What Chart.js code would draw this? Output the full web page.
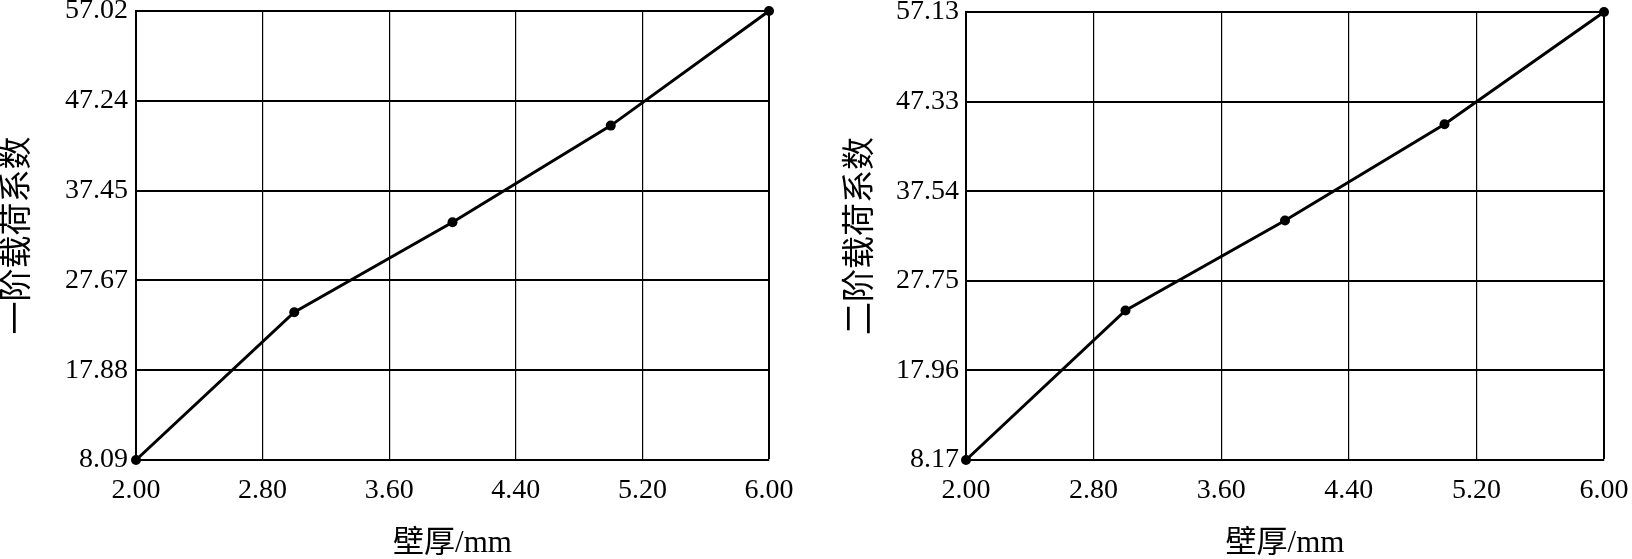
<!DOCTYPE html>
<html><head><meta charset="utf-8">
<script src="https://cdn.jsdelivr.net/npm/chart.js@4.4.0/dist/chart.umd.min.js"></script>
<style>
html,body{margin:0;padding:0;background:#fff;}
#wrap{position:relative;width:1632px;height:559px;overflow:hidden;background:#fff;}
.c{position:absolute;top:0;width:816px;height:559px;}
</style></head><body>
<div id="wrap">
<div class="c" style="left:0"><canvas id="c1" width="816" height="559"></canvas></div>
<div class="c" style="left:816px"><canvas id="c2" width="816" height="559"></canvas></div>
</div>
<script>
const thickness = [2.0, 3.0, 4.0, 5.0, 6.0];
const firstOrder = [8.09, 24.20, 34.00, 44.53, 57.02];
const secondOrder = [8.17, 24.51, 34.34, 44.87, 57.13];
const xTicks = [2.00, 2.80, 3.60, 4.40, 5.20, 6.00];
const yTicks1 = [8.09, 17.88, 27.67, 37.45, 47.24, 57.02];
const yTicks2 = [8.17, 17.96, 27.75, 37.54, 47.33, 57.13];
const xTitle = '壁厚/mm';
const yTitle1 = '一阶载荷系数';
const yTitle2 = '二阶载荷系数';

const serif = "'Liberation Serif', 'Times New Roman', 'Noto Sans CJK SC', serif";
const cjk = "'Liberation Serif', 'Noto Sans CJK SC', serif";

function makeChart(id, values, yTicks, yTitle, g) {
  const pts = thickness.map((x, i) => ({x: x, y: values[i]}));
  return new Chart(document.getElementById(id), {
    type: 'line',
    data: { datasets: [{
      data: pts,
      borderColor: '#000', backgroundColor: '#000',
      borderWidth: 3, pointRadius: 5, pointHoverRadius: 5,
      pointBackgroundColor: '#000', pointBorderColor: '#000', pointBorderWidth: 0,
      tension: 0, fill: false, clip: false
    }]},
    options: {
      responsive: false, animation: false, devicePixelRatio: 1,
      layout: { padding: { top: g.top, left: 0, right: g.right, bottom: 0 } },
      plugins: { legend: { display: false }, tooltip: { enabled: false } },
      scales: {
        x: {
          type: 'linear', min: xTicks[0], max: xTicks[xTicks.length - 1],
          afterBuildTicks: s => { s.ticks = xTicks.map(v => ({value: v})); },
          afterFit: s => { s.height = 559 - g.bottom; s.paddingLeft = 0; s.paddingRight = 0; },
          ticks: { color: '#000', font: { family: serif, size: 28 }, padding: g.xPad, maxRotation: 0,
                   autoSkip: false, callback: v => Number(v).toFixed(2) },
          grid: { color: '#000', drawTicks: false,
                  lineWidth: c => (c.index === xTicks.length - 1 ? 2 : 1.2) },
          border: { color: '#000', width: 2 },
          title: { display: true, text: xTitle, color: '#000',
                   font: { family: cjk, size: 31 }, padding: { top: 0, bottom: g.xTitlePad } }
        },
        y: {
          type: 'linear', min: yTicks[0], max: yTicks[yTicks.length - 1],
          afterBuildTicks: s => { s.ticks = yTicks.map(v => ({value: v})); },
          afterFit: s => { s.width = g.yWidth; s.paddingTop = 0; s.paddingBottom = 0; },
          ticks: { color: '#000', font: { family: serif, size: 28 }, padding: g.yPad,
                   autoSkip: false, callback: v => Number(v).toFixed(2) },
          grid: { color: '#000', drawTicks: false, lineWidth: 2 },
          border: { color: '#000', width: 2 },
          title: { display: true, text: yTitle, color: '#000',
                   font: { family: cjk, size: 33 }, padding: { top: g.yTitlePad, bottom: 0 } }
        }
      }
    }
  });
}

makeChart('c1', firstOrder, yTicks1, yTitle1,
  { top: 11, right: 47, bottom: 460, yWidth: 136, xPad: 14, yPad: 8, xTitlePad: -3, yTitlePad: -1 });
makeChart('c2', secondOrder, yTicks2, yTitle2,
  { top: 12, right: 28, bottom: 460, yWidth: 150, xPad: 14, yPad: 7, xTitlePad: -3, yTitlePad: 26 });
</script>
</body></html>
